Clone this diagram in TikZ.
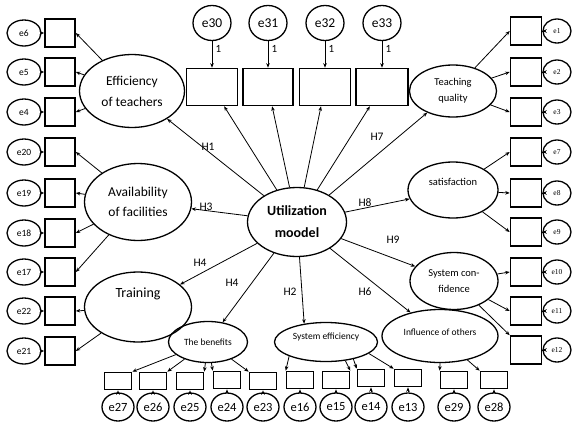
\documentclass[tikz,border=0pt]{standalone}
\usepackage{fontspec}
\setmainfont{Carlito}
\newfontfamily\errserif{Liberation Serif}
\usetikzlibrary{arrows.meta,shapes.geometric}
\tikzset{
  >={Stealth[length=4.5pt,width=3.6pt]},
  latent/.style={ellipse,draw,line width=1.3pt,inner sep=0pt,align=center},
  item/.style={rectangle,draw,line width=1.6pt,inner sep=0pt},
  err/.style={ellipse,draw,line width=1.3pt,inner sep=0pt},
  reg/.style={->,line width=0.8pt},
  hyp/.style={font=\fontsize{11.5}{13}\selectfont},
  one/.style={font=\fontsize{11}{13}\selectfont},
}

\begin{document}
\begin{tikzpicture}[x=1pt,y=-1pt]
  \useasboundingbox (0,0) rectangle (576,426);
  % latent variables
  \node[latent,minimum width=99pt,minimum height=69pt,font=\fontsize{14}{22}\selectfont\bfseries] (util) at (297,222) {Utilization\\moodel};
  \node[latent,minimum width=105pt,minimum height=73pt,font=\fontsize{13.5}{21}\selectfont] (eff) at (132,91) {Efficiency\\of teachers};
  \node[latent,minimum width=107pt,minimum height=77pt,font=\fontsize{13.5}{20}\selectfont] (avail) at (138,202) {Availability\\of facilities};
  \node[latent,minimum width=107pt,minimum height=70pt,font=\fontsize{14}{28}\selectfont] (train) at (138,307) {Training\\\mbox{}};
  \node[latent,minimum width=87pt,minimum height=52pt,font=\fontsize{10.5}{16}\selectfont] (teach) at (453,91) {Teaching\\quality};
  \node[latent,minimum width=90pt,minimum height=56pt,font=\fontsize{10.5}{16}\selectfont] (satis) at (453,190) {satisfaction\\\mbox{}};
  \node[latent,minimum width=88pt,minimum height=57pt,font=\fontsize{10.5}{16}\selectfont] (conf) at (454,281) {System con-\\fidence};
  \node[latent,minimum width=116pt,minimum height=53pt,font=\fontsize{9.5}{10}\selectfont] (infl) at (440,336) {Influence of others\\[-2pt]\mbox{}};
  \node[latent,minimum width=103pt,minimum height=39pt,font=\fontsize{9.5}{12}\selectfont] (seff) at (326,342) {System efficiency\\\mbox{}};
  \node[latent,minimum width=79pt,minimum height=41pt,font=\fontsize{9.5}{11}\selectfont] (ben) at (208,342) {The benefits};

  % indicators with their errors
  \foreach \n/\y in {6/33,5/72,4/112,20/152,19/193,18/233,17/272,22/311,21/351} {
    \node[item,minimum width=30pt,minimum height=28pt] (b\n) at (60,\y) {};
    \node[err,minimum width=34pt,minimum height=26pt,font=\fontsize{9.5}{11}\selectfont] (e\n) at (24,\y) {e\n};
    \draw[reg] (e\n) -- (b\n);
  }
  \foreach \n/\y in {1/31,2/72,3/112,7/152,8/193,9/232,10/272,11/311,12/350} {
    \node[item,minimum width=31pt,minimum height=28pt] (b\n) at (526,\y) {};
    \node[err,minimum width=28pt,minimum height=24pt,font=\errserif\fontsize{7.5}{9}\selectfont] (e\n) at (557,\y) {e\n};
    \draw[reg] (e\n) -- (b\n);
  }
  \foreach \n/\x/\w in {30/212/51,31/268/50,32/325/51,33/382/52} {
    \node[item,minimum width=\w pt,minimum height=37pt] (b\n) at (\x,87) {};
    \node[err,minimum width=38pt,minimum height=35pt,font=\fontsize{13.5}{15}\selectfont] (e\n) at (\x,23) {e\n};
    \draw[reg] (e\n) -- node[one,right,pos=0.3] (o\n) {1} (b\n);
  }
  \foreach \n/\x/\y in {27/118/381,26/153/381,25/190/381,24/227/380,23/263/381,16/300/380,15/336/380,14/371/378,13/408/378,29/454/380,28/494/380} {
    \node[item,minimum width=27pt,minimum height=17pt] (b\n) at (\x,\y) {};
    \node[err,minimum width=32pt,minimum height=28pt,font=\fontsize{12.5}{14}\selectfont] (e\n) at (\x,407) {e\n};
    \draw[reg] (e\n) -- (b\n);
  }

  % structural paths
  \draw[reg] (util) -- (eff);
  \draw[reg] (util) -- (avail);
  \draw[reg] (util) -- (train);
  \draw[reg] (util) -- (ben);
  \draw[reg] (util) -- (seff.140);
  \draw[reg] (util) -- (infl);
  \draw[reg] (util) -- (conf);
  \draw[reg] (util) -- (satis);
  \draw[reg] (util) -- (teach);
  \foreach \n in {30,31,32,33} \draw[reg] (util) -- (b\n);
  \node[hyp] (h1) at (208,147) {H1};
  \node[hyp] (h3) at (206,207) {H3};
  \node[hyp] (h4a) at (200,263) {H4};
  \node[hyp] (h4b) at (232,283) {H4};
  \node[hyp] (h2) at (290,292) {H2};
  \node[hyp] (h6) at (365,292) {H6};
  \node[hyp] (h8) at (365,203) {H8};
  \node[hyp] (h9) at (393,240) {H9};
  \node[hyp] (h7) at (377,137) {H7};

  % loadings
  \foreach \n in {6,5,4} \draw[reg] (eff) -- (b\n.east);
  \foreach \n in {20,19,18,17} \draw[reg] (avail) -- (b\n.east);
  \foreach \n in {22,21} \draw[reg] (train) -- (b\n.east);
  \foreach \n in {1,2,3} \draw[reg] (teach) -- (b\n.west);
  \foreach \n in {7,8,9} \draw[reg] (satis) -- (b\n.west);
  \draw[reg] (conf) -- (b10.west);
  \draw[reg] (conf) -- (b11.west);
  \draw[reg] (conf) -- (b12.north west);
  \draw[reg] (ben) -- (b27.north east);
  \draw[reg] (ben) -- (b26.north east);
  \draw[reg] (ben) -- (b25.north east);
  \draw[reg] (ben) -- (b24.north west);
  \draw[reg] (ben) -- (b23.north west);
  \draw[reg] (seff.south west) -- (b16.north west);
  \draw[reg] (seff.-44) -- (b15.north east);
  \draw[reg] (seff.-32) -- (b14.north west);
  \draw[reg] (seff.-15) -- (b13.north west);
  \draw[reg] (infl.south) -- (b29.north west);
  \draw[reg] (infl) -- (b28.north west);
\end{tikzpicture}
\end{document}
